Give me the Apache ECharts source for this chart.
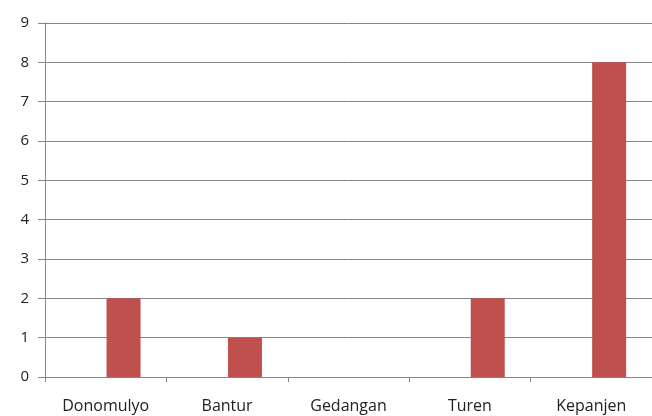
<!DOCTYPE html>
<html><head><meta charset="utf-8">
<script src="https://cdn.jsdelivr.net/npm/echarts@6/dist/echarts.min.js"></script>
<style>html,body{margin:0;padding:0;background:#fff}#c{width:652px;height:416px}</style>
</head><body><div id="c"></div>
<script>
const categories = ['Donomulyo', 'Bantur', 'Gedangan', 'Turen', 'Kepanjen'];
const emptySeries = [0, 0, 0, 0, 0];
const values = [2, 1, 0, 2, 8];
const yTicks = { min: 0, max: 9, interval: 1 };

const chart = echarts.init(document.getElementById('c'));
chart.setOption({
  animation: false,
  backgroundColor: '#fff',
  grid: { left: 45, right: -4, top: 23, bottom: 39 },
  xAxis: {
    type: 'category', data: categories,
    axisLine: { lineStyle: { color: '#868686', width: 1 } },
    axisTick: { show: true, length: 5, inside: false, lineStyle: { color: '#868686' } },
    axisLabel: { color: '#222', fontSize: 16, fontFamily: 'Open Sans', margin: 21 }
  },
  yAxis: {
    type: 'value', min: yTicks.min, max: yTicks.max, interval: yTicks.interval,
    axisLine: { show: true, lineStyle: { color: '#868686', width: 1 } },
    axisTick: { show: true, length: 7, lineStyle: { color: '#868686' } },
    axisLabel: { color: '#222', fontSize: 15, fontFamily: 'Open Sans', margin: 16 },
    splitLine: { lineStyle: { color: '#868686', width: 1 } }
  },
  series: [
    { type: 'bar', data: emptySeries, barWidth: 34, barGap: '5%', itemStyle: { color: 'rgba(0,0,0,0)' } },
    { type: 'bar', data: values, barWidth: 34, barGap: '5%', itemStyle: { color: '#C0504D' } }
  ]
});
</script></body></html>
